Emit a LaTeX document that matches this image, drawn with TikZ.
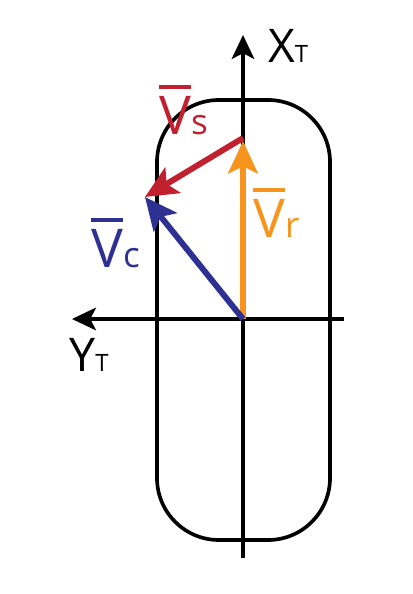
\documentclass[tikz,border=0pt]{standalone}
\usepackage{fontspec}
\setmainfont{Open Sans}
\usetikzlibrary{arrows.meta}
\definecolor{vsred}{HTML}{C1202F}
\definecolor{vrorange}{HTML}{F7941D}
\definecolor{vcblue}{HTML}{2E3192}
% V with a bar above it
\newcommand{\barV}{\leavevmode\vbox{\hrule height 2.6pt\kern 5.5pt\hbox{V}}}
\newcommand{\subfont}{\fontsize{25}{28}\selectfont}
\newcommand{\axsub}{\fontsize{17}{19}\selectfont}

\begin{document}
\begin{tikzpicture}[
    axis/.style={line width=2.6pt, -{Stealth[length=17pt, width=16pt, inset=4pt]}},
    body/.style={line width=2.6pt, rounded corners=1.55cm},
    vec/.style={line width=4.2pt, -{Stealth[length=23pt, width=21pt, inset=5pt]}},
    lbl/.style={inner sep=0pt, anchor=base west, font=\fontsize{38}{44}\selectfont},
    axlbl/.style={inner sep=0pt, anchor=base west, font=\fontsize{33}{38}\selectfont}
]
\useasboundingbox (-6.075,-6.875) rectangle (4.225,7.975);
\coordinate (O) at (0,0);
\coordinate (xtip) at (0,7.1);
\coordinate (xend) at (0,-5.975);
\coordinate (ytip) at (-4.275,0);
\coordinate (yend) at (2.525,0);
\coordinate (vrtip) at (0,4.45);
\coordinate (vsstart) at (0,4.525);
\coordinate (vtip) at (-2.45,3.05);
% body outline
\draw[body] (-2.15,-5.525) rectangle (2.175,5.475);
% axes
\draw[axis] (xend) -- (xtip);
\draw[axis] (yend) -- (ytip);
\node[axlbl] (xlbl) at (0.62,6.4) {X{\axsub T}};
\node[axlbl] (ylbl) at (-4.35,-1.325) {Y{\axsub T}};
% velocity vectors
\draw[vec, vrorange] (O) -- (vrtip);
\draw[vec, vcblue] (O) -- (vtip);
\draw[vec, vsred] (vsstart) -- (vtip);
\node[lbl, text=vsred] (vslbl) at (-2.1,4.6) {\barV{\subfont s}};
\node[lbl, text=vrorange] (vrlbl) at (0.25,2.025) {\barV{\subfont r}};
\node[lbl, text=vcblue] (vclbl) at (-3.8,1.275) {\barV{\subfont c}};
\end{tikzpicture}
\end{document}
